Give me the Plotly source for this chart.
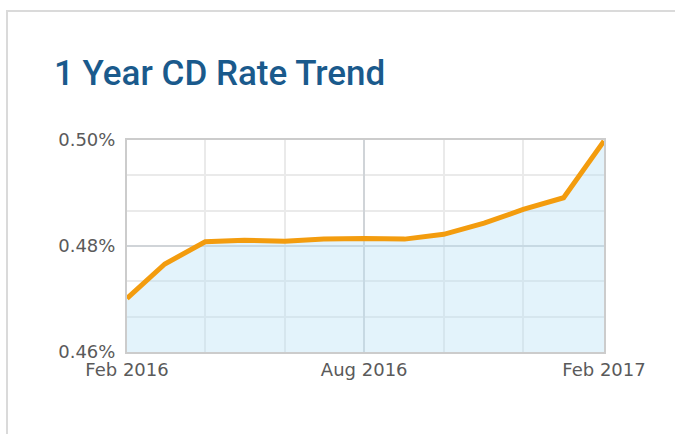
import plotly.graph_objects as go

months = ["2016-02-01", "2016-03-01", "2016-04-01", "2016-05-01", "2016-06-01",
          "2016-07-01", "2016-08-01", "2016-09-01", "2016-10-01", "2016-11-01",
          "2016-12-01", "2017-01-01", "2017-02-01"]
rates = [0.4701, 0.4766, 0.4808, 0.4811, 0.4809, 0.4813, 0.4814, 0.4813,
         0.4822, 0.4843, 0.4869, 0.4891, 0.4998]
tick_dates = ["2016-02-01", "2016-08-01", "2017-02-01"]
tick_labels = ["Feb 2016", "Aug 2016", "Feb 2017"]
y_ticks = [0.46, 0.48, 0.50]
y_labels = ["0.46%", "0.48%", "0.50%"]

fig = go.Figure()
fig.add_trace(go.Scatter(
    x=months, y=rates, mode="lines",
    line=dict(color="#F39C0E", width=5),
    fill="tozeroy", fillcolor="rgba(186,225,245,0.40)",
    hoverinfo="skip"))

fig.update_layout(
    width=675, height=434,
    margin=dict(l=127, r=71, t=140, b=82),
    paper_bgcolor="white", plot_bgcolor="white",
    showlegend=False,
    title=dict(text="1 Year CD Rate Trend", x=54/675, xanchor="left",
               y=1-73/434, yanchor="middle",
               font=dict(family="Roboto, Arial", size=35, color="#1A5A8C", weight=500)),
    font=dict(family="DejaVu Sans, Verdana", size=18, color="#5A5A5A"),
)
fig.update_xaxes(
    range=["2016-02-01", "2017-02-01"],
    tickvals=tick_dates, ticktext=tick_labels,
    showgrid=True, gridcolor="#D0D4D8", gridwidth=1.5,
    showline=True, linecolor="#CCCCCC", linewidth=2, mirror=True,
    ticks="", ticklabelstandoff=0,
    minor=dict(dtick="M2", tick0="2016-02-01", showgrid=True, gridcolor="#EAEAEA", gridwidth=1.5),
    zeroline=False, fixedrange=True,
)
fig.update_yaxes(
    range=[0.46, 0.50],
    tickvals=y_ticks, ticktext=y_labels,
    showgrid=True, gridcolor="#D0D4D8", gridwidth=1.5,
    showline=True, linecolor="#CCCCCC", linewidth=2, mirror=True,
    ticks="", ticklabelstandoff=6,
    minor=dict(dtick=0.04/6, tick0=0.46, showgrid=True, gridcolor="#EAEAEA", gridwidth=1.5),
    zeroline=False, fixedrange=True,
)

# outer card border
fig.add_shape(type="rect", xref="paper", yref="paper",
              x0=(7-127)/477, x1=2, y0=-1, y1=1+(140-11)/212,
              line=dict(color="#DADADA", width=2), fillcolor="rgba(0,0,0,0)", layer="below")

fig.write_html("out.html", config={"displayModeBar": False},
               post_script="document.body.style.margin='0';document.body.style.overflow='hidden';")
